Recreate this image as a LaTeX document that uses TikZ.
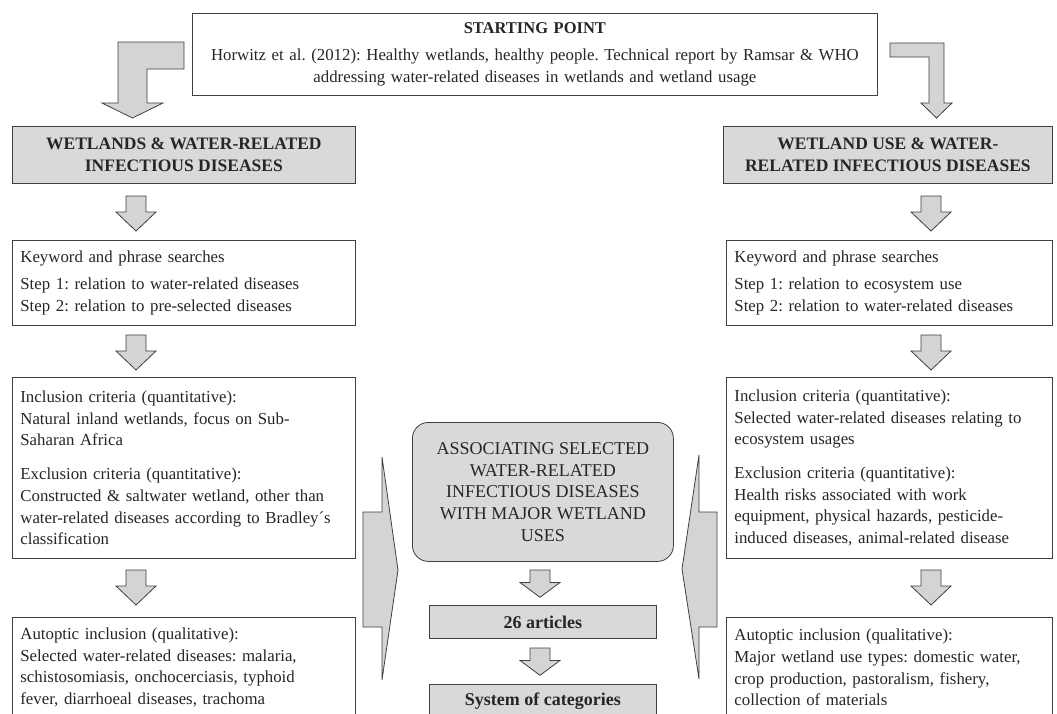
\documentclass[tikz,border=0pt]{standalone}
\usepackage{fontspec}
\setmainfont{Liberation Serif}
\usepackage{tikz}
\frenchspacing

\tikzset{
	txt/.style={shape=rectangle,draw=black!75,fill=white,text=black!85,line width=0.8pt,anchor=north west,align=left,inner xsep=8pt,inner ysep=3pt,font=\fontsize{16.8}{21.7}\selectfont},
	head/.style={shape=rectangle,draw=black!75,fill=black!15,text=black!85,line width=0.8pt,anchor=north west,align=center,inner sep=3pt,font=\bfseries\fontsize{17.5}{21.7}\selectfont},
	blk/.style={draw=black!75,fill=black!17,line width=0.8pt,line join=miter},
	downarr/.pic={\draw[blk] (-10,0) -- (-10,16) -- (-20,16) -- (0,35) -- (20,16) -- (10,16) -- (10,0) -- cycle;}
}

\begin{document}
\begin{tikzpicture}[x=1pt,y=-1pt]
	\path[use as bounding box,clip] (0,0) rectangle (1057,713);
	\fill[white] (0,0) rectangle (1057,713);

	% starting point
	\node [txt,align=center,text width=669pt,minimum height=82pt] (SP) at (192,13) {\textbf{\fontsize{16.5}{21.7}\selectfont STARTING POINT}\\[5pt]Horwitz et al. (2012): Healthy wetlands, healthy people. Technical report by Ramsar \& WHO\\addressing water-related diseases in wetlands and wetland usage};

	% left column
	\node [head,minimum width=343pt,minimum height=57pt] (WL) at (12,126) {WETLANDS \& WATER-RELATED\\INFECTIOUS DISEASES};
	\node [txt,text width=327pt,minimum height=85pt] (KL) at (12,240) {Keyword and phrase searches\\[6pt]Step 1: relation to water-related diseases\\Step 2: relation to pre-selected diseases};
	\node [txt,text width=327pt,minimum height=181pt] (IL) at (12,377) {Inclusion criteria (quantitative):\\Natural inland wetlands, focus on Sub-\\Saharan Africa\\[12pt]Exclusion criteria (quantitative):\\Constructed \& saltwater wetland, other than\\water-related diseases according to Bradley´s\\classification};
	\node [txt,text width=327pt,minimum height=100pt] (AL) at (12,617) {Autoptic inclusion (qualitative):\\Selected water-related diseases: malaria,\\schistosomiasis, onchocerciasis, typhoid\\fever, diarrhoeal diseases, trachoma};

	% right column
	\node [head,minimum width=329pt,minimum height=57pt] (WU) at (723,126) {WETLAND USE \& WATER-\\RELATED INFECTIOUS DISEASES};
	\node [txt,text width=310pt,minimum height=85pt] (KR) at (726,240) {Keyword and phrase searches\\[6pt]Step 1: relation to ecosystem use\\Step 2: relation to water-related diseases};
	\node [txt,text width=310pt,minimum height=181pt] (IR) at (726,377) {Inclusion criteria (quantitative):\\Selected water-related diseases relating to\\ecosystem usages\\[12pt]Exclusion criteria (quantitative):\\Health risks associated with work\\equipment, physical hazards, pesticide-\\induced diseases, animal-related disease};
	\node [txt,text width=310pt,minimum height=100pt] (AR) at (726,617) {Autoptic inclusion (qualitative):\\Major wetland use types: domestic water,\\crop production, pastoralism, fishery,\\collection of materials};

	% centre
	\node [head,font=\fontsize{18}{21.7}\selectfont,rounded corners=16pt,minimum width=261pt,minimum height=139pt] (AS) at (412,422) {ASSOCIATING SELECTED\\WATER-RELATED\\INFECTIOUS DISEASES\\WITH MAJOR WETLAND\\USES};
	\node [head,font=\bfseries\fontsize{18}{21.7}\selectfont,minimum width=227pt,minimum height=33pt] (Art) at (429,605) {26 articles};
	\node [head,font=\bfseries\fontsize{18}{21.7}\selectfont,minimum width=227pt,minimum height=33pt] (Cat) at (429,684) {System of categories};

	% bent arrows from the starting point
	\draw [blk] (184,42) -- (118,42) -- (118,103) -- (102,103) -- (132.5,118) -- (163,103) -- (147,103) -- (147,69) -- (184,69) -- cycle;
	\draw [blk] (890,43) -- (944,43) -- (944,103) -- (952,103) -- (936.5,118) -- (921,103) -- (929,103) -- (929,57) -- (890,57) -- cycle;

	% down arrows
	\foreach \y in {196,335,570} {
		\pic at (136,\y) {downarr};
		\pic at (931,\y) {downarr};
	}
	\pic [yscale=0.78] at (540,570) {downarr};
	\pic [yscale=0.78] at (540,648) {downarr};

	% side arrows into the centre
	\draw [blk] (363,512) -- (382,512) -- (382,457) -- (398,570) -- (382,680) -- (382,627) -- (363,627) -- cycle;
	\draw [blk] (717,512) -- (699,512) -- (699,455) -- (682,569) -- (699,679) -- (699,627) -- (717,627) -- cycle;
\end{tikzpicture}
\end{document}
